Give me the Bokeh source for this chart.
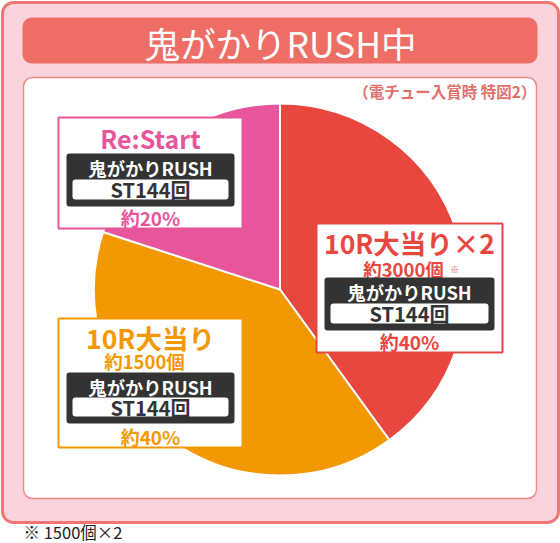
import numpy as np
from bokeh.plotting import figure
from bokeh.models import Range1d
from bokeh.core.properties import value
from bokeh.embed import file_html
from bokeh.resources import INLINE

# ---- data ----
title_text = "鬼がかりRUSH中"
note_text = "（電チュー入賞時 特図2）"
footnote_text = "※ 1500個×2"
slice_names = ["10R大当り×2", "10R大当り", "Re:Start"]
slice_shares = [40, 40, 20]
slice_payouts = ["約3000個", "約1500個", ""]
slice_colors = ["#e8473f", "#f39800", "#e9559b"]
rush_name = "鬼がかりRUSH"
st_count = "ST144回"

FONT = "Noto Sans CJK JP"
W, H = 560, 543


def Y(y):
    return H - y


p = figure(width=W, height=H, output_backend="svg", toolbar_location=None,
           x_range=Range1d(0, W), y_range=Range1d(0, H), min_border=0,
           x_axis_type=None, y_axis_type=None)
p.grid.visible = False
p.outline_line_color = None
p.background_fill_color = "white"
p.border_fill_color = "white"


def box(l, r, t, b, fill, line=None, lw=0, radius=0):
    p.quad(left=[l], right=[r], top=[Y(t)], bottom=[Y(b)], fill_color=fill,
           line_color=line, line_width=lw, border_radius=radius)


def txt(x, y, s, color, size, bold=True, align="center"):
    p.text(x=[x], y=[Y(y)], text=[s], text_color=color, text_font=value(FONT),
           text_font_size=f"{size:.1f}px",
           text_font_style="bold" if bold else "normal",
           text_align=align, text_baseline="middle")


# outer frame, title bar, inner panel
box(2, 558, 2, 522, "#fad3dc", "#ef7672", 3, 11)
box(22, 537, 17, 63, "#ee6e66", None, 0, 9)
txt(280, 42, title_text, "white", 35.5, bold=False)
box(23, 536, 77, 498, "white", "#f08c84", 1.5, 9)
txt(536, 90, note_text, "#e2706c", 15.5, align="right")

# pie
fr = np.array(slice_shares, dtype=float) / sum(slice_shares)
cum = np.concatenate([[0.0], np.cumsum(fr)])
start = np.pi / 2 - 2 * np.pi * cum[:-1]
end = np.pi / 2 - 2 * np.pi * cum[1:]
cx, cy, R = 279.5, 289, 186
p.wedge(x=cx, y=Y(cy), radius=R, start_angle=start, end_angle=end,
        direction="clock", fill_color=slice_colors, line_color="white", line_width=2)

# label layouts (box left, right, top, bottom; row positions)
layouts = [
    dict(l=316, r=502, t=223, b=352, head=242, hs=26.5, pay=268, dark=(277, 330), inner=(303, 323)),
    dict(l=58, r=242, t=318, b=447, head=337, hs=26.5, pay=360, dark=(372, 423), inner=(397, 416)),
    dict(l=58, r=242, t=117, b=228, head=137, hs=25, pay=None, dark=(153, 206), inner=(179, 199)),
]

for name, share, pay, col, L in zip(slice_names, slice_shares, slice_payouts, slice_colors, layouts):
    xc = (L["l"] + L["r"]) / 2
    box(L["l"], L["r"], L["t"], L["b"], "white", col, 2, 0)
    txt(xc, L["head"], name, col, L["hs"])
    if pay:
        txt(xc - 6, L["pay"], pay, col, 18.5)
        if "3000" in pay:
            txt(xc + 45, L["pay"] + 1, "※", col, 9)
    dt, db = L["dark"]
    box(L["l"] + 8, L["r"] - 8, dt, db, "#333333", None, 0, 3)
    txt(xc, dt + 14.5, rush_name, "white", 18.3)
    it, ib = L["inner"]
    box(L["l"] + 14, L["r"] - 14, it, ib, "white", None, 0, 3)
    txt(xc, (it + ib) / 2, st_count, "#333333", 20)
    txt(xc, L["b"] - 11, f"約{share}%", col, 19)

txt(23, 531, footnote_text, "#222222", 16.5, bold=False, align="left")

open("out.html", "w").write(file_html(p, INLINE))
